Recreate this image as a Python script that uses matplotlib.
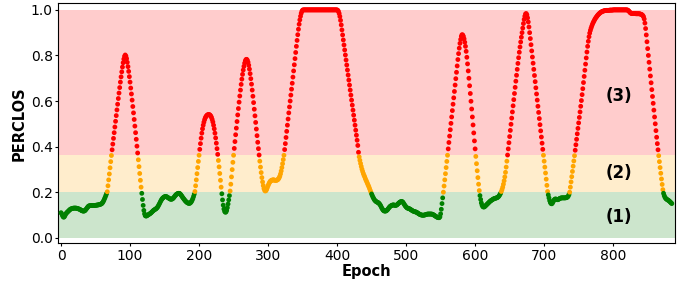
import matplotlib
matplotlib.use('Agg')
import matplotlib.pyplot as plt
import numpy as np

#---- PERCLOS per epoch (epochs 0..885) ----#
seg_base1 = [  # 0-66
    0.110, 0.105, 0.098, 0.092, 0.090, 0.093, 0.099, 0.105, 0.109, 0.112,
    0.115, 0.118, 0.121, 0.124, 0.126, 0.127, 0.128, 0.129, 0.130, 0.130,
    0.130, 0.130, 0.130, 0.129, 0.128, 0.127, 0.126, 0.125, 0.123, 0.121,
    0.119, 0.118, 0.117, 0.117, 0.118, 0.120, 0.124, 0.128, 0.132, 0.136,
    0.139, 0.140, 0.141, 0.141, 0.141, 0.141, 0.141, 0.142, 0.142, 0.142,
    0.142, 0.143, 0.143, 0.144, 0.144, 0.145, 0.146, 0.147, 0.148, 0.150,
    0.153, 0.158, 0.164, 0.171, 0.178, 0.186, 0.194]
seg_peak1 = [  # 67-124
    0.202, 0.228, 0.254, 0.280, 0.307, 0.334, 0.361, 0.386, 0.411, 0.436,
    0.461, 0.486, 0.511, 0.536, 0.561, 0.586, 0.611, 0.635, 0.659, 0.683,
    0.706, 0.728, 0.749, 0.768, 0.784, 0.796, 0.802, 0.797, 0.786, 0.770,
    0.751, 0.730, 0.707, 0.683, 0.657, 0.631, 0.604, 0.576, 0.548, 0.519,
    0.490, 0.461, 0.432, 0.402, 0.372, 0.342, 0.312, 0.282, 0.252, 0.222,
    0.195, 0.168, 0.142, 0.120, 0.105, 0.097, 0.095, 0.096]
seg_base2 = [  # 125-193
    0.098, 0.100, 0.102, 0.104, 0.106, 0.108, 0.111, 0.114, 0.117, 0.120,
    0.122, 0.124, 0.126, 0.128, 0.131, 0.135, 0.140, 0.146, 0.152, 0.158,
    0.164, 0.169, 0.173, 0.176, 0.178, 0.180, 0.181, 0.181, 0.180, 0.178,
    0.176, 0.174, 0.172, 0.170, 0.169, 0.169, 0.170, 0.172, 0.175, 0.179,
    0.183, 0.187, 0.190, 0.192, 0.194, 0.195, 0.195, 0.194, 0.191, 0.187,
    0.183, 0.178, 0.174, 0.170, 0.166, 0.162, 0.159, 0.156, 0.154, 0.152,
    0.151, 0.151, 0.152, 0.155, 0.159, 0.165, 0.172, 0.181, 0.191]
seg_peak2 = [  # 194-300
    0.203, 0.228, 0.254, 0.281, 0.308, 0.335, 0.362,
    0.388, 0.413, 0.437, 0.459, 0.478, 0.494, 0.507, 0.518, 0.526, 0.532,
    0.536, 0.539, 0.540, 0.541, 0.540, 0.538, 0.534, 0.528, 0.519, 0.508,
    0.494, 0.478, 0.459, 0.438, 0.415, 0.391, 0.366, 0.339, 0.311, 0.282,
    0.252, 0.222, 0.193, 0.166, 0.143, 0.126, 0.116, 0.112, 0.113, 0.120,
    0.132, 0.148, 0.166, 0.185, 0.205, 0.235, 0.267, 0.299, 0.331, 0.362,
    0.392, 0.422, 0.452, 0.481, 0.510, 0.539, 0.567, 0.595, 0.622, 0.648,
    0.673, 0.696, 0.717, 0.736, 0.752, 0.766, 0.776, 0.782, 0.783, 0.779,
    0.770, 0.757, 0.740, 0.720, 0.698, 0.674, 0.648, 0.621, 0.593, 0.564,
    0.535, 0.506, 0.477, 0.448, 0.419, 0.391, 0.363, 0.336, 0.310, 0.286,
    0.264, 0.245, 0.229, 0.216, 0.208, 0.205, 0.207, 0.213, 0.221, 0.229]
seg_plateau = [  # 301-450
    0.236, 0.242, 0.247, 0.250, 0.252, 0.253, 0.254, 0.254, 0.253, 0.252,
    0.252, 0.252, 0.253, 0.255, 0.258, 0.263, 0.270, 0.280, 0.293, 0.308,
    0.325, 0.343, 0.362, 0.387, 0.413, 0.440, 0.467, 0.494, 0.521, 0.548,
    0.574, 0.600, 0.626, 0.652, 0.678, 0.705, 0.732, 0.759, 0.786, 0.813,
    0.840, 0.866, 0.891, 0.915, 0.937, 0.956, 0.972, 0.985, 0.994, 0.999,
    1.000, 1.000, 1.000, 1.000, 1.000, 1.000, 1.000, 1.000, 1.000, 1.000,
    1.000, 1.000, 1.000, 1.000, 1.000, 1.000, 1.000, 1.000, 1.000, 1.000,
    1.000, 1.000, 1.000, 1.000, 1.000, 1.000, 1.000, 1.000, 1.000, 1.000,
    1.000, 1.000, 1.000, 1.000, 1.000, 1.000, 1.000, 1.000, 1.000, 1.000,
    1.000, 1.000, 1.000, 1.000, 1.000, 1.000, 1.000, 1.000, 1.000, 1.000,
    0.998, 0.993, 0.984, 0.971, 0.954, 0.934, 0.912, 0.890, 0.868, 0.846,
    0.824, 0.802, 0.780, 0.758, 0.736, 0.714, 0.692, 0.670, 0.648, 0.626,
    0.604, 0.582, 0.560, 0.538, 0.516, 0.494, 0.472, 0.450, 0.428, 0.405,
    0.375, 0.355, 0.340, 0.326, 0.313, 0.301, 0.291, 0.282, 0.274, 0.267,
    0.259, 0.252, 0.245, 0.238, 0.231, 0.224, 0.216, 0.208, 0.200, 0.192]
seg_base3 = [  # 451-554
    0.185, 0.178, 0.172, 0.167, 0.163, 0.160, 0.158, 0.156, 0.155, 0.153,
    0.150, 0.146, 0.141, 0.135, 0.129, 0.124, 0.120, 0.118, 0.117, 0.117,
    0.118, 0.120, 0.123, 0.127, 0.131, 0.135, 0.138, 0.140, 0.142, 0.143,
    0.144, 0.144, 0.143, 0.142, 0.142, 0.143, 0.145, 0.148, 0.151, 0.154,
    0.156, 0.158, 0.159, 0.159, 0.157, 0.153, 0.148, 0.143, 0.139, 0.135,
    0.132, 0.130, 0.129, 0.128, 0.127, 0.125, 0.123, 0.121, 0.119, 0.117,
    0.116, 0.115, 0.114, 0.113, 0.112, 0.110, 0.108, 0.106, 0.104, 0.102,
    0.101, 0.100, 0.099, 0.099, 0.099, 0.099, 0.100, 0.101, 0.102, 0.103,
    0.104, 0.104, 0.104, 0.104, 0.104, 0.104, 0.104, 0.103, 0.102, 0.100,
    0.098, 0.096, 0.094, 0.092, 0.090, 0.089, 0.088, 0.088, 0.092, 0.105,
    0.125, 0.150, 0.175, 0.200]
seg_peak3 = [  # 555-606
    0.227, 0.254, 0.281, 0.308, 0.335, 0.362,
    0.390, 0.418, 0.446, 0.474, 0.502, 0.530, 0.558, 0.586, 0.614, 0.642,
    0.670, 0.698, 0.726, 0.754, 0.782, 0.808, 0.832, 0.853, 0.870, 0.884,
    0.891, 0.890, 0.884, 0.873, 0.858, 0.840, 0.818, 0.792, 0.763, 0.732,
    0.700, 0.667, 0.633, 0.599, 0.565, 0.530, 0.495, 0.460, 0.425, 0.390,
    0.357, 0.325, 0.294, 0.264, 0.235, 0.207]
seg_base4 = [  # 607-636
    0.185, 0.168, 0.153, 0.143, 0.137, 0.135, 0.135, 0.137, 0.140, 0.143,
    0.146, 0.149, 0.152, 0.155, 0.158, 0.161, 0.163, 0.165, 0.167, 0.169,
    0.171, 0.172, 0.173, 0.174, 0.175, 0.176, 0.178, 0.181, 0.185, 0.190]
seg_peak4 = [  # 637-705
    0.196, 0.203, 0.212, 0.222, 0.235, 0.250, 0.267, 0.287, 0.310, 0.336,
    0.363, 0.390, 0.417, 0.444, 0.471, 0.498, 0.525, 0.552, 0.579, 0.606,
    0.633, 0.660, 0.687, 0.713, 0.739, 0.765, 0.790, 0.814, 0.837, 0.859,
    0.880, 0.900, 0.920, 0.940, 0.958, 0.972, 0.982, 0.984, 0.978, 0.965,
    0.947, 0.925, 0.900, 0.874, 0.847, 0.820, 0.793, 0.766, 0.739, 0.712,
    0.685, 0.658, 0.631, 0.604, 0.577, 0.550, 0.523, 0.496, 0.469, 0.442,
    0.415, 0.388, 0.362, 0.336, 0.310, 0.284, 0.257, 0.230, 0.203]
seg_base5 = [  # 706-736
    0.188, 0.175, 0.163, 0.155, 0.150, 0.149, 0.152, 0.158, 0.164, 0.168,
    0.170, 0.170, 0.168, 0.167, 0.167, 0.169, 0.171, 0.173, 0.174, 0.175,
    0.175, 0.175, 0.175, 0.175, 0.175, 0.175, 0.176, 0.177, 0.179, 0.183,
    0.190]
seg_peak5 = [  # 737-885
    0.200, 0.222, 0.245, 0.268, 0.291, 0.314, 0.337, 0.360, 0.384, 0.408,
    0.432, 0.456, 0.480, 0.504, 0.528, 0.552, 0.577, 0.602, 0.628, 0.654,
    0.681, 0.708, 0.735, 0.762, 0.789, 0.815, 0.840, 0.862, 0.882, 0.898,
    0.910, 0.920, 0.929, 0.937, 0.944, 0.950, 0.956, 0.961, 0.966, 0.970,
    0.974, 0.978, 0.981, 0.984, 0.987, 0.989, 0.991, 0.993, 0.994, 0.995,
    0.996, 0.997, 0.997, 0.998, 0.998, 0.998, 0.998, 0.998, 0.999, 0.999,
    0.999, 0.999, 0.999, 1.000, 1.000, 1.000, 1.000, 1.000, 1.000, 1.000,
    1.000, 1.000, 1.000, 1.000, 1.000, 1.000, 1.000, 1.000, 1.000, 1.000,
    1.000, 1.000, 1.000, 1.000, 0.999, 0.997, 0.994, 0.990, 0.987, 0.985,
    0.984, 0.984, 0.984, 0.984, 0.984, 0.984, 0.983, 0.983, 0.983, 0.983,
    0.983, 0.983, 0.982, 0.981, 0.980, 0.978, 0.975, 0.970, 0.960, 0.942,
    0.918, 0.890, 0.860, 0.830, 0.800, 0.770, 0.740, 0.710, 0.680, 0.650,
    0.620, 0.590, 0.560, 0.530, 0.500, 0.470, 0.441, 0.413, 0.386, 0.360,
    0.334, 0.308, 0.283, 0.258, 0.234, 0.211, 0.195, 0.185, 0.178, 0.173,
    0.170, 0.168, 0.166, 0.164, 0.162, 0.159, 0.156, 0.153, 0.150]

perclos = np.array(seg_base1 + seg_peak1 + seg_base2 + seg_peak2 + seg_plateau
                   + seg_base3 + seg_peak3 + seg_base4 + seg_peak4 + seg_base5
                   + seg_peak5)
epoch = np.arange(len(perclos))

# state thresholds
low_thr = 0.2
high_thr = 0.363
zone_labels = ['(1)', '(2)', '(3)']

#---- Figure ----#
fig = plt.figure(figsize=(6.88, 2.84), dpi=100)
ax = fig.add_axes([0.0847, 0.1444, 0.8968, 0.8433])

ax.axhspan(0, low_thr, color='green', alpha=0.2, lw=0)
ax.axhspan(low_thr, high_thr, color='orange', alpha=0.2, lw=0)
ax.axhspan(high_thr, 1.0, color='red', alpha=0.2, lw=0)

cols = np.where(perclos < low_thr, 'green',
                np.where(perclos < high_thr, 'orange', 'red'))
ax.scatter(epoch, perclos, c=cols, s=12, linewidths=0, zorder=3)

ax.text(808, 0.62, zone_labels[2], fontsize=12, fontweight='bold', ha='center', va='center')
ax.text(808, 0.283, zone_labels[1], fontsize=12, fontweight='bold', ha='center', va='center')
ax.text(808, 0.092, zone_labels[0], fontsize=12, fontweight='bold', ha='center', va='center')

ax.set_xlim(-4, 890)
ax.set_ylim(-0.023, 1.028)
ax.set_xticks([0, 100, 200, 300, 400, 500, 600, 700, 800])
ax.set_yticks([0.0, 0.2, 0.4, 0.6, 0.8, 1.0])
ax.tick_params(labelsize=10, length=2, pad=2)
ax.set_xlabel('Epoch', fontsize=10.5, fontweight='bold', labelpad=1)
ax.set_ylabel('PERCLOS', fontsize=10.5, fontweight='bold', labelpad=3)

plt.savefig('out.png', dpi=100)
